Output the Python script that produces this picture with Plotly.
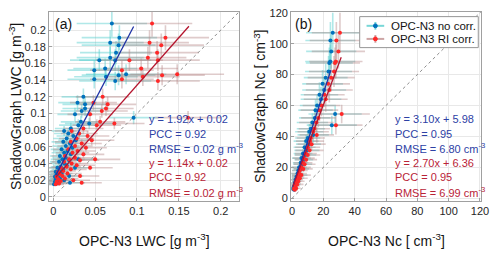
import plotly.graph_objects as go

# ---------------- Panel (a): LWC ----------------
lwc_sg = [0.208, 0.191, 0.185, 0.182, 0.173, 0.167, 0.164, 0.164, 0.154, 0.152,
          0.147, 0.146, 0.144, 0.141, 0.139, 0.120, 0.113, 0.111, 0.106, 0.103,
          0.099, 0.095, 0.090, 0.088, 0.086, 0.082, 0.079, 0.076, 0.073, 0.070,
          0.068, 0.066, 0.064, 0.061, 0.059, 0.057, 0.055, 0.053, 0.051, 0.049,
          0.047, 0.045, 0.045, 0.044, 0.042, 0.040, 0.038, 0.036, 0.035, 0.035,
          0.033, 0.031, 0.030, 0.028, 0.027, 0.025, 0.025, 0.024, 0.022, 0.021,
          0.020, 0.019, 0.018, 0.017, 0.016, 0.015]
lwc_nocorr = [0.070, 0.079, 0.068, 0.078, 0.075, 0.068, 0.055, 0.074, 0.062, 0.049,
              0.087, 0.078, 0.063, 0.049, 0.074, 0.036, 0.029, 0.038, 0.038, 0.034,
              0.026, 0.096, 0.033, 0.043, 0.030, 0.021, 0.013, 0.018, 0.024, 0.016,
              0.027, 0.012, 0.020, 0.015, 0.023, 0.010, 0.017, 0.013, 0.021, 0.008,
              0.015, 0.011, 0.030, 0.019, 0.007, 0.013, 0.016, 0.009, 0.005, 0.026,
              0.012, 0.007, 0.003, 0.010, 0.004, 0.006, 0.019, 0.002, 0.008, 0.003,
              0.013, 0.005, 0.002, 0.020, 0.004, 0.001]
lwc_ricorr = [0.118, 0.134, 0.115, 0.129, 0.124, 0.113, 0.091, 0.125, 0.105, 0.082,
              0.148, 0.130, 0.107, 0.082, 0.125, 0.059, 0.048, 0.065, 0.063, 0.058,
              0.044, 0.161, 0.056, 0.073, 0.052, 0.036, 0.022, 0.031, 0.041, 0.028,
              0.046, 0.021, 0.034, 0.026, 0.039, 0.018, 0.029, 0.023, 0.036, 0.014,
              0.026, 0.019, 0.050, 0.032, 0.013, 0.022, 0.028, 0.016, 0.009, 0.044,
              0.021, 0.012, 0.006, 0.017, 0.008, 0.011, 0.032, 0.004, 0.014, 0.006,
              0.024, 0.009, 0.004, 0.034, 0.007, 0.003]
lwc_xerr_nocorr = [0.042, 0.045, 0.040, 0.044, 0.043, 0.040, 0.035, 0.043, 0.038, 0.032,
                   0.048, 0.044, 0.038, 0.032, 0.043, 0.026, 0.023, 0.027, 0.027, 0.025,
                   0.021, 0.030, 0.024, 0.029, 0.023, 0.019, 0.015, 0.017, 0.020, 0.016,
                   0.021, 0.014, 0.018, 0.016, 0.019, 0.013, 0.017, 0.015, 0.018, 0.012,
                   0.016, 0.014, 0.023, 0.017, 0.011, 0.015, 0.016, 0.012, 0.010, 0.021,
                   0.014, 0.011, 0.009, 0.013, 0.009, 0.010, 0.017, 0.008, 0.012, 0.008,
                   0.015, 0.010, 0.008, 0.018, 0.009, 0.007]
lwc_xerr_ricorr = [0.048, 0.052, 0.047, 0.051, 0.050, 0.046, 0.040, 0.050, 0.044, 0.038,
                   0.056, 0.051, 0.044, 0.038, 0.050, 0.032, 0.028, 0.034, 0.033, 0.031,
                   0.027, 0.040, 0.030, 0.036, 0.029, 0.024, 0.020, 0.022, 0.026, 0.021,
                   0.027, 0.019, 0.024, 0.021, 0.025, 0.018, 0.022, 0.020, 0.025, 0.016,
                   0.021, 0.019, 0.030, 0.023, 0.015, 0.020, 0.022, 0.017, 0.014, 0.027,
                   0.019, 0.015, 0.012, 0.017, 0.013, 0.015, 0.023, 0.011, 0.016, 0.012,
                   0.020, 0.013, 0.011, 0.024, 0.012, 0.010]
lwc_yerr = [0.016, 0.015, 0.015, 0.014, 0.014, 0.013, 0.013, 0.013, 0.012, 0.012,
            0.012, 0.012, 0.011, 0.011, 0.011, 0.010, 0.009, 0.009, 0.009, 0.008,
            0.008, 0.008, 0.007, 0.007, 0.007, 0.007, 0.006, 0.006, 0.006, 0.006,
            0.006, 0.005, 0.005, 0.005, 0.005, 0.005, 0.005, 0.004, 0.004, 0.004,
            0.004, 0.004, 0.004, 0.004, 0.004, 0.003, 0.003, 0.003, 0.003, 0.003,
            0.003, 0.003, 0.003, 0.003, 0.002, 0.002, 0.002, 0.002, 0.002, 0.002,
            0.002, 0.002, 0.002, 0.002, 0.002, 0.002]
lwc_fit_nocorr = (1.92, 0.02)
lwc_fit_ricorr = (1.14, 0.02)
lwc_fit_xrange_nocorr = [0.003, 0.096]
lwc_fit_xrange_ricorr = [0.003, 0.162]
lwc_ticks_x = [0, 0.05, 0.1, 0.15, 0.2]
lwc_ticks_y = [0, 0.02, 0.04, 0.06, 0.08, 0.1, 0.12, 0.14, 0.16, 0.18, 0.2]
lwc_text_nocorr = ["y = 1.92x + 0.02", "PCC = 0.92", "RMSE = 0.02 g m<sup>-3</sup>"]
lwc_text_ricorr = ["y = 1.14x + 0.02", "PCC = 0.92", "RMSE = 0.02 g m<sup>-3</sup>"]

# ---------------- Panel (b): Nc ----------------
nc_sg = [107, 102, 95, 88.5, 87.5, 82, 78, 74, 70, 67,
         64, 60, 57, 54.5, 52, 49, 47.3, 45, 43, 41,
         39, 37, 35, 33, 31, 29, 28, 26, 25, 23,
         22, 20, 19, 18, 16, 15, 14, 13, 12, 11,
         10, 9, 8, 7, 6.5, 6, 5.5]
nc_nocorr = [26.0, 24.5, 25.0, 24.4, 23.8, 23.3, 21.5, 19.5, 20.5, 17.5,
             18.5, 16.0, 15.0, 27.5, 14.5, 13.0, 25.4, 12.0, 11.0, 13.5,
             10.0, 9.0, 10.5, 8.0, 9.5, 7.0, 8.5, 6.0, 7.5, 5.5,
             6.8, 4.5, 5.8, 4.0, 3.5, 4.8, 2.8, 3.8, 2.2, 3.0,
             1.8, 2.5, 1.5, 1.0, 2.0, 0.8, 1.3]
nc_ricorr = [30.6, 28.3, 29.6, 28.0, 27.4, 26.8, 25.0, 23.0, 23.8, 20.6,
             21.5, 18.8, 17.5, 31.7, 16.8, 15.5, 28.0, 14.2, 13.5, 15.8,
             12.0, 11.5, 12.5, 10.0, 11.2, 8.8, 10.0, 7.5, 9.0, 7.0,
             8.0, 6.0, 7.2, 5.0, 4.5, 6.0, 3.8, 5.0, 3.0, 4.0,
             2.5, 3.3, 2.0, 1.5, 2.6, 1.2, 1.8]
nc_xerr_nocorr = [17, 16, 16, 16, 15, 15, 14, 13, 14, 12,
                  13, 11, 11, 17, 10, 10, 16, 9, 9, 10,
                  8, 8, 8, 7, 8, 6, 7, 6, 6, 5,
                  6, 5, 5, 4, 4, 5, 3, 4, 3, 3,
                  3, 3, 2, 2, 2, 2, 2]
nc_xerr_ricorr = [18, 17, 17, 17, 16, 16, 15, 14, 15, 13,
                  14, 12, 12, 18, 11, 11, 17, 10, 10, 11,
                  9, 9, 9, 8, 9, 7, 8, 7, 7, 6,
                  7, 6, 6, 5, 5, 6, 4, 5, 4, 4,
                  3, 4, 3, 2, 3, 2, 2]
nc_yerr = [13, 12, 11, 11, 10, 10, 9, 9, 8, 8,
           8, 7, 7, 6, 6, 6, 6, 5, 5, 5,
           5, 4, 4, 4, 4, 3, 3, 3, 3, 3,
           3, 2, 2, 2, 2, 2, 2, 2, 1.5, 1.5,
           1.5, 1.5, 1, 1, 1, 1, 1]
nc_fit_nocorr = (3.10, 5.98)
nc_fit_ricorr = (2.70, 6.36)
nc_fit_xrange_nocorr = [0.5, 24.8]
nc_fit_xrange_ricorr = [0.5, 31.4]
nc_ticks = [0, 20, 40, 60, 80, 100, 120]
nc_text_nocorr = ["y = 3.10x + 5.98", "PCC = 0.95", "RMSE = 6.80 cm<sup>-3</sup>"]
nc_text_ricorr = ["y = 2.70x + 6.36", "PCC = 0.95", "RMSE = 6.99 cm<sup>-3</sup>"]

series_names = ["OPC-N3 no corr.", "OPC-N3 RI corr."]

# ---------------- Styles ----------------
FONT = "Liberation Sans, Arial, Helvetica, sans-serif"
MK_BLUE = "rgb(0,114,189)"
MK_RED = "rgb(255,40,40)"
ERR_BLUE = "rgba(80,205,205,0.45)"
ERR_RED = "rgba(185,140,140,0.45)"
ERR_BLUE_SOLID = "rgb(120,215,215)"
ERR_RED_SOLID = "rgb(205,165,165)"
LN_BLUE = "rgb(30,50,165)"
LN_RED = "rgb(180,20,45)"
TX_BLUE = "rgb(45,65,165)"
TX_RED = "rgb(185,35,55)"

W, H = 500, 255
fig = go.Figure()


def add_panel(xa, ya, xb, xr, y, exb, exr, ey, fb, fr, rb, rr, dmax):
    for xs, ex, col in ((xb, exb, ERR_BLUE), (xr, exr, ERR_RED)):
        fig.add_trace(go.Scatter(
            x=xs, y=y, mode="markers", xaxis=xa, yaxis=ya, showlegend=False,
            marker=dict(size=1, color="rgba(0,0,0,0)"), hoverinfo="skip",
            error_x=dict(type="data", array=ex, color=col, thickness=1.6, width=0),
            error_y=dict(type="data", array=ey, color=col, thickness=1.6, width=0)))
    fig.add_trace(go.Scatter(x=[0, dmax], y=[0, dmax], mode="lines", xaxis=xa, yaxis=ya,
                             showlegend=False, line=dict(color="rgb(140,140,140)", width=1, dash="dot")))
    for xs, col in ((xb, MK_BLUE), (xr, MK_RED)):
        fig.add_trace(go.Scatter(x=xs, y=y, mode="markers", xaxis=xa, yaxis=ya, showlegend=False,
                                 marker=dict(size=4, color=col)))
    for (a, b), rng, col in ((fb, rb, LN_BLUE), (fr, rr, LN_RED)):
        fig.add_trace(go.Scatter(x=rng, y=[a * v + b for v in rng], mode="lines",
                                 xaxis=xa, yaxis=ya, showlegend=False,
                                 line=dict(color=col, width=1.3)))


add_panel("x", "y", lwc_nocorr, lwc_ricorr, lwc_sg, lwc_xerr_nocorr, lwc_xerr_ricorr, lwc_yerr,
          lwc_fit_nocorr, lwc_fit_ricorr, lwc_fit_xrange_nocorr, lwc_fit_xrange_ricorr, 0.222)
add_panel("x2", "y2", nc_nocorr, nc_ricorr, nc_sg, nc_xerr_nocorr, nc_xerr_ricorr, nc_yerr,
          nc_fit_nocorr, nc_fit_ricorr, nc_fit_xrange_nocorr, nc_fit_xrange_ricorr, 121)

axis_common = dict(showgrid=True, gridcolor="rgb(232,232,232)", gridwidth=1, zeroline=False,
                   showline=True, linecolor="rgb(160,160,160)", linewidth=1, mirror=True,
                   ticks="inside", ticklen=3, tickcolor="rgb(160,160,160)",
                   tickfont=dict(family=FONT, size=11, color="rgb(38,38,38)"))

fig.update_layout(
    width=W, height=H, margin=dict(l=0, r=0, t=0, b=0),
    paper_bgcolor="white", plot_bgcolor="white",
    font=dict(family=FONT, color="rgb(38,38,38)"),
    xaxis=dict(domain=[0.096, 0.484], range=[-0.005, 0.222], tickvals=lwc_ticks_x,
               ticktext=[("%g" % v) for v in lwc_ticks_x], anchor="y", **axis_common),
    yaxis=dict(domain=[0.208, 0.9725], range=[-0.0045, 0.222], tickvals=lwc_ticks_y,
               ticktext=[("%g" % v) for v in lwc_ticks_y], anchor="x", **axis_common),
    xaxis2=dict(domain=[0.59, 0.978], range=[-0.6, 120.8], tickvals=nc_ticks, anchor="y2",
                **axis_common),
    yaxis2=dict(domain=[0.208, 0.9725], range=[-1.5, 120.6], tickvals=nc_ticks, anchor="x2",
                **axis_common),
    showlegend=False,
)


def px(x):
    return x / W


def py(y):
    return 1 - y / H


# ----- legend box (drawn as shapes + text) -----
shapes = [dict(type="rect", xref="paper", yref="paper", x0=px(365), x1=px(486), y0=py(12), y1=py(44),
               line=dict(color="rgb(150,150,150)", width=1), fillcolor="white", layer="above")]
ann = []
leg_rows = [21.5, 35]
for (name, mk, er), yy in zip(((series_names[0], MK_BLUE, ERR_BLUE_SOLID),
                               (series_names[1], MK_RED, ERR_RED_SOLID)), leg_rows):
    shapes.append(dict(type="line", xref="paper", yref="paper", x0=px(372), x1=px(390),
                       y0=py(yy), y1=py(yy), line=dict(color=er, width=2), layer="above"))
    shapes.append(dict(type="line", xref="paper", yref="paper", x0=px(381), x1=px(381),
                       y0=py(yy - 4), y1=py(yy + 4), line=dict(color=er, width=2), layer="above"))
    shapes.append(dict(type="circle", xref="paper", yref="paper", x0=px(379), x1=px(383),
                       y0=py(yy + 2), y1=py(yy - 2), line=dict(color=mk, width=1),
                       fillcolor=mk, layer="above"))
    ann.append(dict(text=name, x=px(395), y=py(yy), xref="paper", yref="paper", showarrow=False,
                    xanchor="left", yanchor="middle",
                    font=dict(family=FONT, size=11.5, color="rgb(20,20,20)")))

titles = [("OPC-N3 LWC [g m<sup>-3</sup>]", 145, 243, 0),
          ("OPC-N3 Nc [ cm<sup>-3</sup>]", 392, 243, 0),
          ("ShadowGraph LWC [g m<sup>-3</sup>]", 14, 104.5, -90),
          ("ShadowGraph Nc [ cm<sup>-3</sup>]", 263, 104.5, -90)]
for t, xx, yy, ang in titles:
    ann.append(dict(text=t, x=px(xx), y=py(yy), textangle=ang, xref="paper", yref="paper",
                    showarrow=False, xanchor="center", yanchor="middle",
                    font=dict(family=FONT, size=14, color="rgb(20,20,20)")))
for lab, xx in (("(a)", 52), ("(b)", 297)):
    ann.append(dict(text=lab, x=px(xx), y=py(20), xref="paper", yref="paper",
                    showarrow=False, xanchor="left", yanchor="middle",
                    font=dict(family=FONT, size=14, color="rgb(20,20,20)")))
rows_y = [118, 133, 148, 163, 178, 193]
for xx, tb, tr in ((148, lwc_text_nocorr, lwc_text_ricorr), (399, nc_text_nocorr, nc_text_ricorr)):
    lines = [(t, TX_BLUE) for t in tb] + [(t, TX_RED) for t in tr]
    for (t, c), yy in zip(lines, rows_y):
        ann.append(dict(text=t, x=px(xx), y=py(yy), xref="paper", yref="paper",
                        showarrow=False, xanchor="left", yanchor="middle",
                        font=dict(family=FONT, size=11, color=c)))
fig.update_layout(annotations=ann, shapes=shapes)

fig.write_html("out.html", config={"displayModeBar": False},
               post_script="document.body.style.margin='0';")
